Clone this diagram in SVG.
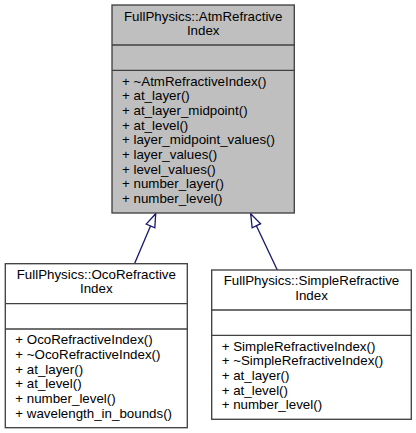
<svg xmlns="http://www.w3.org/2000/svg" width="416" height="433" viewBox="0 0 416 433">
<style>
.box{stroke:#404040;stroke-width:1.33}
.sep{stroke:#404040;stroke-width:1.33;fill:none}
text{font-family:"Liberation Sans",Arial,Helvetica,sans-serif;font-size:13.33px;fill:#000}
.t{text-anchor:middle}
.edge{stroke:#191970;stroke-width:1.33;fill:none}
</style>
<defs>
<marker id="tri" markerUnits="userSpaceOnUse" markerWidth="16" markerHeight="12" refX="13.3" refY="0" viewBox="-1 -6 16 12" orient="auto" overflow="visible">
<path d="M0,-4.7 L13.3,0 L0,4.7 Z" fill="#ffffff" stroke="#191970" stroke-width="1.33"/>
</marker>
</defs>
<rect width="416" height="433" fill="#ffffff"/>
<g id="connectors">
<line class="edge" x1="134.5" y1="263.7" x2="155.7" y2="213.7" marker-end="url(#tri)"/>
<line class="edge" x1="277.3" y1="270" x2="250.7" y2="213.7" marker-end="url(#tri)"/>
</g>
<g id="AtmRefractiveIndex">
<rect class="box" x="112" y="5" width="182.3" height="208" fill="#bfbfbf"/>
<line class="sep" x1="112" y1="45" x2="294.3" y2="45"/>
<line class="sep" x1="112" y1="70.3" x2="294.3" y2="70.3"/>
<text class="t" x="203.2" y="20.5">FullPhysics::AtmRefractive</text>
<text class="t" x="203.2" y="35.2">Index</text>
<text x="122" y="85.5">+ ~AtmRefractiveIndex()</text>
<text x="122" y="100.2">+ at_layer()</text>
<text x="122" y="114.8">+ at_layer_midpoint()</text>
<text x="122" y="129.5">+ at_level()</text>
<text x="122" y="144.2">+ layer_midpoint_values()</text>
<text x="122" y="158.8">+ layer_values()</text>
<text x="122" y="173.5">+ level_values()</text>
<text x="122" y="188.2">+ number_layer()</text>
<text x="122" y="202.8">+ number_level()</text>
</g>
<g id="OcoRefractiveIndex">
<rect class="box" x="5.3" y="263.7" width="182" height="164" fill="#ffffff"/>
<line class="sep" x1="5.3" y1="303.7" x2="187.3" y2="303.7"/>
<line class="sep" x1="5.3" y1="329" x2="187.3" y2="329"/>
<text class="t" x="96.3" y="278.7">FullPhysics::OcoRefractive</text>
<text class="t" x="96.3" y="293.4">Index</text>
<text x="15.3" y="344.2">+ OcoRefractiveIndex()</text>
<text x="15.3" y="358.9">+ ~OcoRefractiveIndex()</text>
<text x="15.3" y="373.5">+ at_layer()</text>
<text x="15.3" y="388.2">+ at_level()</text>
<text x="15.3" y="402.9">+ number_level()</text>
<text x="15.3" y="417.5">+ wavelength_in_bounds()</text>
</g>
<g id="SimpleRefractiveIndex">
<rect class="box" x="211.7" y="270" width="199.6" height="149.3" fill="#ffffff"/>
<line class="sep" x1="211.7" y1="310" x2="411.3" y2="310"/>
<line class="sep" x1="211.7" y1="335.3" x2="411.3" y2="335.3"/>
<text class="t" x="311.5" y="285">FullPhysics::SimpleRefractive</text>
<text class="t" x="311.5" y="299.7">Index</text>
<text x="221.7" y="350.5">+ SimpleRefractiveIndex()</text>
<text x="221.7" y="365.2">+ ~SimpleRefractiveIndex()</text>
<text x="221.7" y="379.8">+ at_layer()</text>
<text x="221.7" y="394.5">+ at_level()</text>
<text x="221.7" y="409.2">+ number_level()</text>
</g>
</svg>
